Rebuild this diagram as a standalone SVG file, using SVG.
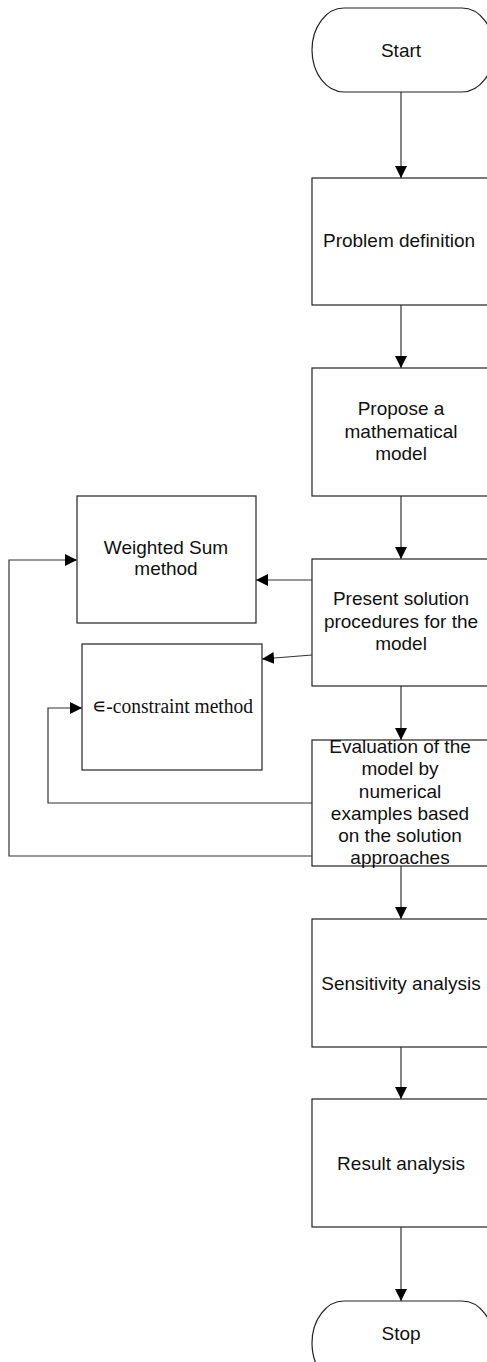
<svg xmlns="http://www.w3.org/2000/svg" width="487" height="1362" viewBox="0 0 487 1362">
<style>
.box{fill:#fff;stroke:#222;stroke-width:1.2}
.t{font-family:"Liberation Sans",Arial,sans-serif;font-size:19px;fill:#111;text-anchor:middle}
.ts{font-family:"Liberation Serif","Times New Roman",serif;font-size:20.5px;fill:#111}
.ln{fill:none;stroke:#333;stroke-width:1.2}
</style>
<defs>
<marker id="ah" markerWidth="12" markerHeight="12" refX="12" refY="6" orient="auto" markerUnits="userSpaceOnUse">
<path d="M0,0 L12,6 L0,12 Z" fill="#000"/>
</marker>
</defs>
<rect width="487" height="1362" fill="#fff"/>
<g id="connectors">
<line class="ln" x1="401" y1="92" x2="401" y2="178" marker-end="url(#ah)"/>
<line class="ln" x1="401" y1="305" x2="401" y2="368" marker-end="url(#ah)"/>
<line class="ln" x1="401" y1="496" x2="401" y2="559" marker-end="url(#ah)"/>
<line class="ln" x1="312" y1="580" x2="256" y2="580" marker-end="url(#ah)"/>
<line class="ln" x1="312" y1="655" x2="262" y2="659" marker-end="url(#ah)"/>
<line class="ln" x1="401" y1="686" x2="401" y2="740" marker-end="url(#ah)"/>
<polyline class="ln" points="312,803 48,803 48,708 82,708" marker-end="url(#ah)"/>
<polyline class="ln" points="312,856 9,856 9,560 77,560" marker-end="url(#ah)"/>
<line class="ln" x1="401" y1="866" x2="401" y2="919" marker-end="url(#ah)"/>
<line class="ln" x1="401" y1="1047" x2="401" y2="1099" marker-end="url(#ah)"/>
<line class="ln" x1="401" y1="1227" x2="401" y2="1301" marker-end="url(#ah)"/>
</g>
<g id="start">
<rect class="box" x="312" y="8" width="182" height="84" rx="32" ry="42"/>
<text class="t" x="401" y="57">Start</text>
</g>
<g id="problem">
<rect class="box" x="312" y="178" width="180" height="127"/>
<text class="t" x="399" y="247">Problem definition</text>
</g>
<g id="propose">
<rect class="box" x="312" y="368" width="180" height="128"/>
<text class="t" x="401" y="415">Propose a</text>
<text class="t" x="401" y="437.5">mathematical</text>
<text class="t" x="401" y="460">model</text>
</g>
<g id="weighted">
<rect class="box" x="77" y="496" width="179" height="127"/>
<text class="t" x="166" y="554">Weighted Sum</text>
<text class="t" x="166" y="575">method</text>
</g>
<g id="present">
<rect class="box" x="312" y="559" width="180" height="127"/>
<text class="t" x="401" y="605">Present solution</text>
<text class="t" x="401" y="628">procedures for the</text>
<text class="t" x="401" y="650">model</text>
</g>
<g id="epsilon">
<rect class="box" x="82" y="644" width="180" height="126"/>
<text class="ts" x="92" y="713" textLength="161" lengthAdjust="spacingAndGlyphs">∊-constraint method</text>
</g>
<g id="evaluation">
<rect class="box" x="312" y="740" width="180" height="126"/>
<text class="t" x="400" y="753">Evaluation of the</text>
<text class="t" x="400" y="775">model by</text>
<text class="t" x="400" y="797.5">numerical</text>
<text class="t" x="400" y="820">examples based</text>
<text class="t" x="400" y="842">on the solution</text>
<text class="t" x="400" y="864">approaches</text>
</g>
<g id="sensitivity">
<rect class="box" x="312" y="919" width="180" height="128"/>
<text class="t" x="401" y="990">Sensitivity analysis</text>
</g>
<g id="result">
<rect class="box" x="312" y="1099" width="180" height="128"/>
<text class="t" x="401" y="1170">Result analysis</text>
</g>
<g id="stop">
<rect class="box" x="312" y="1301" width="182" height="84" rx="32" ry="42"/>
<text class="t" x="401" y="1340">Stop</text>
</g>
</svg>
